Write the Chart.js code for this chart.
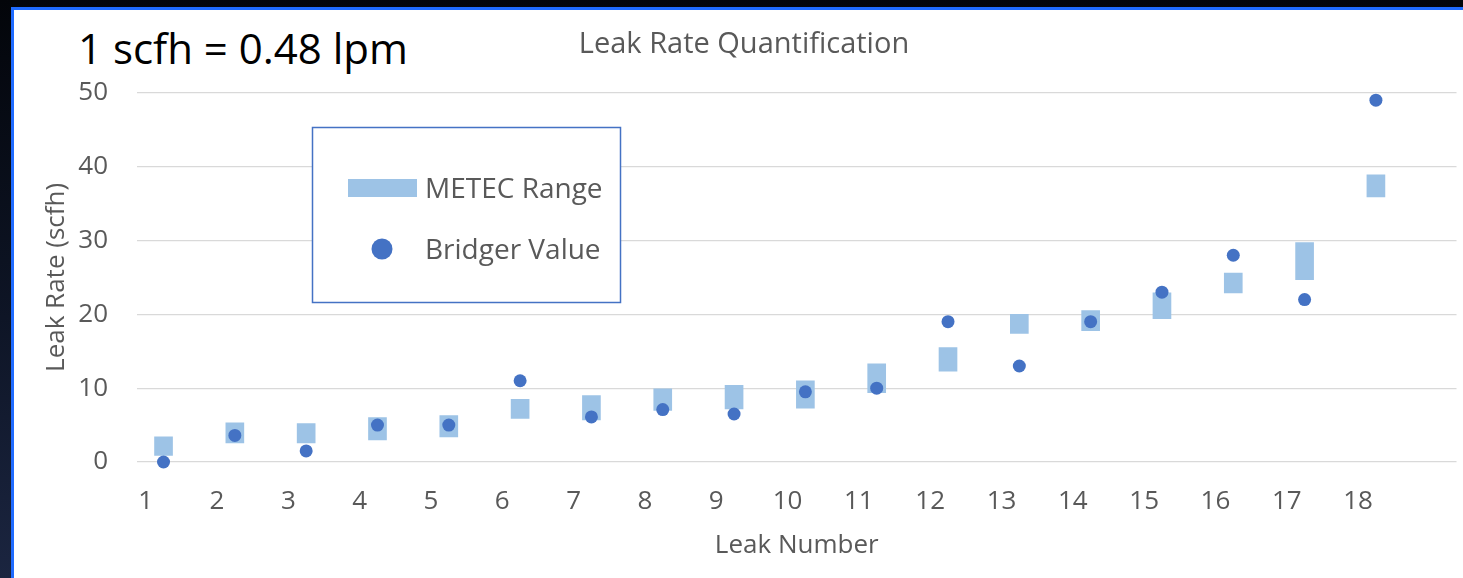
<!DOCTYPE html>
<html>
<head>
<meta charset="utf-8">
<title>Leak Rate Quantification</title>
<script src="https://cdn.jsdelivr.net/npm/chart.js@4.4.1/dist/chart.umd.min.js"></script>
<style>
  html, body { margin: 0; padding: 0; width: 1463px; height: 578px; overflow: hidden; }
  body {
    position: relative;
    background: linear-gradient(180deg, #03050a 0%, #0e1526 55%, #1b2540 100%);
    font-family: "Open Sans", sans-serif;
  }
  #slide {
    position: absolute; left: 11px; top: 7px; right: 0; bottom: 0;
    background: #fff;
    border-left: 3px solid #1f6bff;
    border-top: 3px solid #1f6bff;
  }
  #note {
    position: absolute; left: 78px; top: 27px;
    font-size: 42px; line-height: 42px; color: #000; white-space: nowrap;
  }
  #wrap { position: absolute; left: 30px; top: 10px; width: 1433px; height: 568px; }
</style>
</head>
<body>
<div id="slide"></div>
<div id="note">1 scfh = 0.48 lpm</div>
<div id="wrap"><canvas id="leakChart"></canvas></div>

<script>
// leak numbers on the x axis
const leakNumbers = [1, 2, 3, 4, 5, 6, 7, 8, 9, 10, 11, 12, 13, 14, 15, 16, 17, 18];

// METEC range (scfh), low and high end of each bar
const metecLow = [0.9, 2.6, 2.6, 3.0, 3.4, 5.9, 5.7, 7.0, 7.2, 7.3, 9.4, 12.3, 17.4, 17.8, 19.4, 22.9, 24.7, 35.9];
const metecHigh = [3.4, 5.3, 5.2, 6.0, 6.3, 8.5, 9.0, 9.9, 10.4, 11.0, 13.3, 15.5, 20.0, 20.5, 22.9, 25.6, 29.7, 38.9];

// Bridger reported value (scfh)
const bridgerValue = [0, 3.6, 1.5, 5.0, 5.0, 11.0, 6.1, 7.1, 6.5, 9.5, 10.0, 19.0, 13.0, 19.0, 23.0, 28.0, 22.0, 49.0];

// y axis ticks
const yTicks = [0, 10, 20, 30, 40, 50];

// marks sit a quarter step right of their leak number label
const markShift = 0.25;

const GREY = "#595959";
const FONT = "'Open Sans', sans-serif";

// legend box drawn inside the plot, like the original
const boxLegend = {
  id: "boxLegend",
  afterDatasetsDraw(chart) {
    const ctx = chart.ctx;
    const sets = chart.data.datasets;
    ctx.save();
    ctx.fillStyle = "#fff";
    ctx.fillRect(282.5, 117.5, 308, 175);
    ctx.strokeStyle = "#4472C4";
    ctx.lineWidth = 1.5;
    ctx.strokeRect(282.5, 117.5, 308, 175);

    // METEC Range
    ctx.fillStyle = sets[1].backgroundColor;
    ctx.fillRect(318, 169, 69, 18);
    // Bridger Value
    ctx.fillStyle = sets[0].backgroundColor;
    ctx.beginPath();
    ctx.arc(352, 239, 10.5, 0, Math.PI * 2);
    ctx.fill();

    ctx.fillStyle = GREY;
    ctx.font = "28px " + FONT;
    ctx.textAlign = "left";
    ctx.textBaseline = "alphabetic";
    ctx.fillText(sets[1].label, 395, 188);
    ctx.fillText(sets[0].label, 395, 249);
    ctx.restore();
  },
};

function renderLeakChart() {
  const ctx = document.getElementById("leakChart").getContext("2d");

  new Chart(ctx, {
    type: "bar",
    data: {
      datasets: [
        {
          type: "scatter",
          label: "Bridger Value",
          data: leakNumbers.map((n, i) => ({ x: n + markShift, y: bridgerValue[i] })),
          backgroundColor: "#4472C4",
          borderColor: "#4472C4",
          pointRadius: 6.5,
          borderWidth: 0,
          clip: false,
          order: 0,
        },
        {
          type: "bar",
          label: "METEC Range",
          data: leakNumbers.map((n, i) => ({ x: n + markShift, y: [metecLow[i], metecHigh[i]] })),
          backgroundColor: "#9DC3E6",
          borderWidth: 0,
          barThickness: 18,
          order: 1,
        },
      ],
    },
    options: {
      responsive: true,
      maintainAspectRatio: false,
      animation: false,
      layout: { padding: { left: 0, right: 5, top: 0, bottom: 0 } },
      plugins: {
        legend: { display: false },
        tooltip: { enabled: false },
        title: {
          display: true,
          text: "Leak Rate Quantification",
          color: GREY,
          font: { family: FONT, size: 29, weight: "normal" },
          padding: { top: 17, bottom: 31 },
        },
      },
      scales: {
        x: {
          type: "linear",
          offset: false,
          min: 0.878,
          max: 19.38,
          afterFit(scale) { scale.height = 116; },
          afterBuildTicks(scale) { scale.ticks = leakNumbers.map((v) => ({ value: v })); },
          grid: { display: false, drawTicks: false, offset: false },
          border: { display: false },
          ticks: {
            color: GREY,
            font: { family: FONT, size: 26 },
            padding: 24,
            maxRotation: 0,
            autoSkip: false,
          },
          title: {
            display: true,
            text: "Leak Number",
            color: GREY,
            font: { family: FONT, size: 26 },
            padding: { top: 0, bottom: 17 },
          },
        },
        y: {
          min: 0,
          max: 50,
          afterFit(scale) { scale.width = 107; },
          afterBuildTicks(scale) { scale.ticks = yTicks.map((v) => ({ value: v })); },
          grid: { color: "#d9d9d9", lineWidth: 1.3, drawTicks: false },
          border: { display: false },
          ticks: {
            color: GREY,
            font: { family: FONT, size: 26 },
            padding: 29,
          },
          title: {
            display: true,
            text: "Leak Rate (scfh)",
            color: GREY,
            font: { family: FONT, size: 26 },
            padding: { top: 11, bottom: 0 },
          },
        },
      },
    },
    plugins: [boxLegend],
  });
}

renderLeakChart();
</script>
</body>
</html>
